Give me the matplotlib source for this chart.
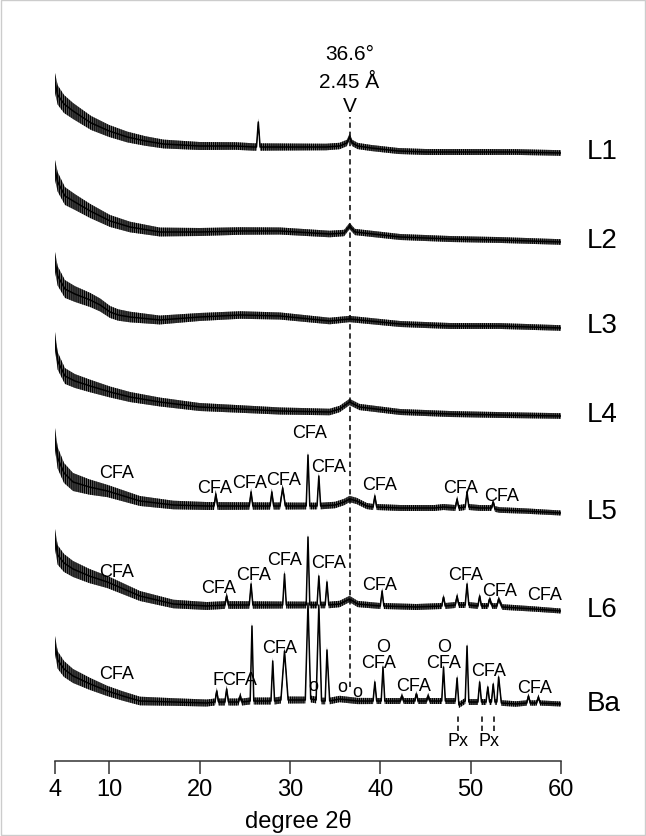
import numpy as np
import matplotlib
matplotlib.use("Agg")
import matplotlib.pyplot as plt
from matplotlib.patches import Rectangle

plt.rcParams["font.family"] = ["Liberation Sans", "DejaVu Sans"]
plt.rcParams["hatch.linewidth"] = 0.9

# ---- data: 2theta (deg) and intensity above each trace's own baseline ----
names = ["L1", "L2", "L3", "L4", "L5", "L6", "Ba"]
offsets = [608, 519, 434, 345, 248, 150, 56]

l1_x = [4.0, 4.3, 5.0, 6.0, 7.0, 8.0, 9.0, 10.0, 12.0, 14.0, 16.0, 18.0, 20.0, 22.0, 24.0, 26.0,
        26.3, 26.5, 26.7, 28.0, 30.0, 32.0, 34.0, 35.5, 36.3, 36.6, 36.9, 37.5, 39.0, 42.0, 45.0,
        50.0, 55.0, 60.0]
l1_y = [70, 58, 49, 42, 36, 30, 26, 22, 16, 12, 9, 8, 7, 7, 7, 6,
        6, 31, 6, 6, 6, 6, 6, 7, 10, 16, 10, 7, 5, 2, 1,
        1, 1, 0]

l2_x = [4.0, 4.3, 5.1, 6.2, 7.9, 10.1, 12.3, 15.6, 20.0, 24.5, 28.9, 34.4, 36.0, 36.6, 37.2,
        42.2, 47.7, 53.2, 60.0]
l2_y = [72, 60, 46, 40, 31, 21, 15, 10, 10, 11, 11, 8, 9, 16, 10,
        5, 3, 2, 0]

l3_x = [4.0, 4.3, 5.1, 6.2, 7.9, 9.0, 10.1, 11.0, 12.3, 15.6, 20.0, 24.5, 28.9, 34.4, 36.6,
        42.2, 47.7, 53.2, 60.0]
l3_y = [65, 51, 38, 33, 27, 22, 15, 12, 10, 7, 10, 12, 11, 6, 8,
        3, 1, 1, -1]

l4_x = [4.0, 4.3, 5.1, 6.2, 7.9, 10.1, 12.3, 15.6, 20.0, 24.5, 28.9, 34.4, 35.5, 36.6,
        37.7, 42.2, 47.7, 53.2, 60.0]
l4_y = [75, 55, 40, 35, 30, 24, 19, 14, 9, 7, 5, 4, 7, 14,
        9, 4, 2, 1, 0]

l5_x = [4.0, 4.3, 5.0, 6.0, 7.8, 9.8, 13.4, 17.1, 20.8, 21.6, 21.8, 22.0, 24.5, 25.5, 25.7, 25.9,
        27.8, 28.0, 28.2, 28.9, 29.2, 29.5, 31.1, 31.8, 32.0, 32.2, 33.0, 33.2, 33.4,
        35.0, 36.0, 36.6, 37.4, 38.5, 39.2, 39.4, 39.6, 42.2, 46.0, 47.0, 48.3, 48.5,
        48.7, 49.4, 49.6, 49.8, 51.0, 52.3, 52.5, 52.7, 53.2, 56.0, 60.0]
l5_y = [74, 55, 40, 31, 26, 22, 12, 8, 7, 7, 19, 7, 7, 7, 21, 7,
        7, 21, 7, 7, 25, 7, 7, 7, 58, 7, 7, 37, 7,
        8, 11, 14, 12, 7, 6, 17, 6, 5, 5, 6, 5, 14,
        5, 6, 21, 6, 5, 5, 11, 4, 3, 2, 0]

l6_x = [4.0, 4.3, 5.0, 6.0, 7.8, 9.8, 13.4, 17.1, 20.8, 22.8, 23.0, 23.2, 24.5, 25.5, 25.7, 25.9,
        29.2, 29.4, 29.6, 31.8, 32.0, 32.2, 33.0, 33.2, 33.4, 33.9, 34.1, 34.3, 35.5,
        36.6, 37.5, 40.0, 40.2, 40.4, 44.0, 46.8, 47.0, 47.2, 48.3, 48.5, 48.7, 49.4,
        49.6, 49.8, 50.8, 51.0, 51.2, 51.9, 52.1, 52.4, 52.9, 53.1, 53.5, 57.0, 60.0]
l6_y = [72, 56, 48, 42, 35, 29, 15, 7, 5, 6, 15, 6, 6, 6, 27, 6,
        6, 37, 6, 6, 74, 6, 6, 35, 6, 6, 29, 6, 7,
        12, 7, 5, 20, 5, 4, 5, 14, 5, 6, 15, 6, 6,
        27, 6, 5, 15, 5, 5, 12, 5, 5, 12, 4, 2, 0]

ba_x = [4.0, 4.3, 5.0, 6.0, 7.9, 9.8, 11.5, 13.4, 17.1, 20.8, 21.7, 21.9, 22.1, 22.8, 23.0, 23.2,
        24.3, 24.5, 24.7, 25.6, 25.8, 26.0, 27.9, 28.1, 28.3, 29.0, 29.4, 29.8, 31.7,
        32.0, 32.3, 32.9, 33.2, 33.5, 33.9, 34.1, 34.4, 35.5, 36.5, 37.5, 39.2, 39.4,
        39.6, 40.1, 40.3, 40.5, 42.2, 42.4, 42.6, 43.8, 44.0, 44.2, 45.1, 45.3, 45.5,
        46.8, 47.0, 47.2, 48.3, 48.5, 48.7, 49.4, 49.6, 49.8, 50.8, 51.0, 51.2, 51.7,
        51.9, 52.1, 52.3, 52.5, 52.7, 52.9, 53.1, 53.4, 55.0, 56.2, 56.4, 56.6, 57.3,
        57.5, 57.7, 60.0]
ba_y = [60, 45, 36, 29, 21, 14, 9, 4, 3, 2, 3, 14, 3, 3, 16, 3,
        3, 9, 3, 4, 79, 4, 4, 44, 4, 5, 54, 5, 5,
        102, 6, 5, 100, 4, 4, 55, 4, 6, 5, 4, 4, 23,
        4, 4, 38, 4, 4, 9, 4, 4, 11, 4, 4, 9, 4,
        4, 38, 4, 4, 27, 0, 4, 59, 3, 3, 23, 3, 3,
        18, 3, 3, 21, 3, 3, 28, 2, 1, 2, 9, 2, 2,
        8, 2, 1]

# noise band half-width read at these angles
noise_x = [4, 6, 10, 15, 20, 30, 40, 50, 60]
noise_hw = {
    "L1": [10, 8, 6, 4.5, 4, 3.5, 3, 3, 2.8],
    "L2": [10, 8, 6, 4.5, 4, 3.5, 3, 3, 2.8],
    "L3": [10, 8, 6, 4.5, 4, 3.5, 3, 3, 2.8],
    "L4": [9, 7, 5.5, 4.5, 4, 3.5, 3, 3, 2.8],
    "L5": [11, 9, 6, 4.5, 4, 3.5, 3, 3, 2.5],
    "L6": [10, 8, 6, 4.5, 4, 3.5, 3, 3, 2.5],
    "Ba": [9, 7, 5, 4, 3.5, 3.5, 3, 3, 2.5],
}

traces = [(l1_x, l1_y), (l2_x, l2_y), (l3_x, l3_y), (l4_x, l4_y),
          (l5_x, l5_y), (l6_x, l6_y), (ba_x, ba_y)]

# peak labels (2theta, height)
l5_lab_x = [10.83, 21.71, 25.58, 29.34, 32.22, 34.25, 39.89, 48.93, 53.44]
l5_lab_y = [288.7, 273.7, 278.7, 281.3, 328, 294.7, 276, 273.7, 265.3]
l6_lab_x = [10.83, 22.07, 26.02, 29.45, 34.25, 39.89, 49.49, 53.17, 58.23]
l6_lab_y = [189.3, 173.7, 187, 201.3, 198.7, 177, 187, 170.3, 167]
ba_lab = [("CFA", 10.83, 87), ("F", 22.09, 81), ("CFA", 24.47, 81), ("CFA", 28.90, 113.7),
          ("O", 40.27, 114.7), ("CFA", 39.78, 98.7), ("CFA", 43.65, 75.3),
          ("O", 47.05, 114.7), ("CFA", 46.97, 98.7), ("CFA", 51.95, 90.3),
          ("CFA", 57.12, 73.7), ("o", 32.55, 75.3), ("o", 35.80, 74), ("o", 37.46, 69.7)]
px_lines = [48.57, 51.22, 52.62]
px_labels = [48.60, 52.03]
v_pos = 36.6

fig = plt.figure(figsize=(6.46, 8.37), dpi=100)
ax = fig.add_axes([55 / 646, 75 / 837, 506 / 646, 762 / 837])

for name, off, (x, y) in zip(names, offsets, traces):
    x = np.array(x)
    y = np.array(y) + off
    hw = np.interp(x, noise_x, noise_hw[name])
    # noisy band: grey body with dense vertical strokes
    ax.fill_between(x, y - hw, y + hw, facecolor="0.45", edgecolor="black",
                    hatch="||||||||", lw=0)
    ax.plot(x, y, color="black", lw=1.1)
    ax.text(62.85, off + 2, name, fontsize=20, ha="left", va="center", clip_on=False)

lab_kw = dict(fontsize=13, ha="center", va="center")
for xx, yy in zip(l5_lab_x, l5_lab_y):
    ax.text(xx, yy, "CFA", **lab_kw)
for xx, yy in zip(l6_lab_x, l6_lab_y):
    ax.text(xx, yy, "CFA", **lab_kw)
for s, xx, yy in ba_lab:
    ax.text(xx, yy, s, **lab_kw)

# V marker
ax.plot([v_pos, v_pos], [74, 644], color="black", lw=1.1, ls=(0, (3.5, 2.5)))
ax.text(v_pos, 707, "36.6°", fontsize=15, ha="center", va="center")
ax.text(v_pos, 679.3, "2.45 Å", fontsize=15, ha="center", va="center")
ax.text(v_pos, 655.3, "V", fontsize=15, ha="center", va="center")

# pyroxene markers
for xx in px_lines:
    ax.plot([xx, xx], [30, 46], color="black", lw=1.1, ls=(0, (3.5, 2.5)))
for xx in px_labels:
    ax.text(xx, 20.3, "Px", **lab_kw)

ax.set_xlim(4, 60)
ax.set_ylim(0, 762)
ax.set_xticks([4, 10, 20, 30, 40, 50, 60])
ax.tick_params(axis="x", direction="out", length=9.5, width=1.1, pad=3, labelsize=17, color="0.2")
ax.set_yticks([])
for side in ["top", "left", "right"]:
    ax.spines[side].set_visible(False)
ax.spines["bottom"].set_linewidth(1.1)
ax.spines["bottom"].set_color("0.2")
ax.patch.set_visible(False)

fig.text(298 / 646, 1 - 821.7 / 837, "degree 2θ", fontsize=17, ha="center", va="center")

fig.patches.append(Rectangle((0.001, 0.001), 0.998, 0.998, transform=fig.transFigure,
                             fill=False, edgecolor="0.8", lw=1))

fig.savefig("out.png", dpi=100)
